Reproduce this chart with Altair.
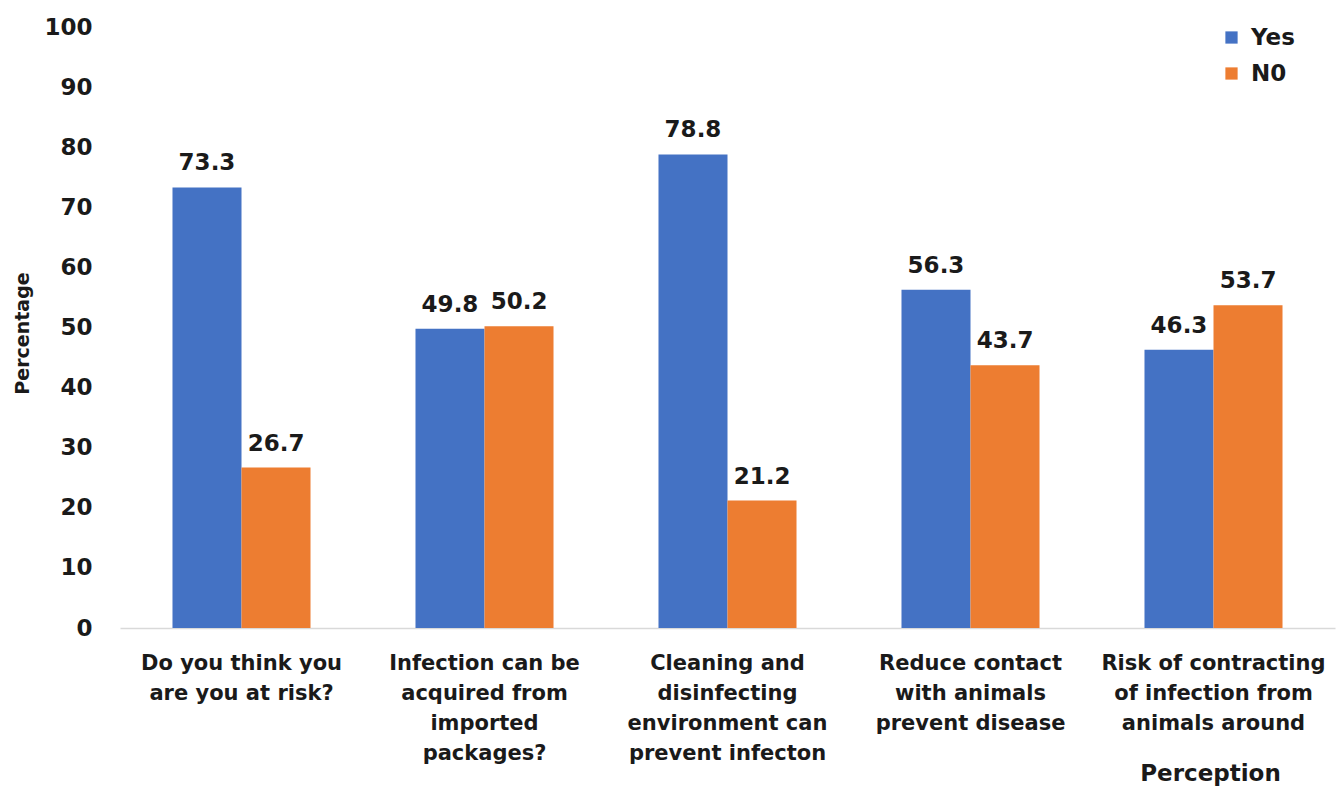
import altair as alt
import pandas as pd

categories = [
    "Do you think you|are you at risk?",
    "Infection can be|acquired from|imported|packages?",
    "Cleaning and|disinfecting|environment can|prevent infecton",
    "Reduce contact|with animals|prevent disease",
    "Risk of contracting|of infection from|animals around",
]
groups = ["Yes", "N0"]
yes_values = [73.3, 49.8, 78.8, 56.3, 46.3]
no_values = [26.7, 50.2, 21.2, 43.7, 53.7]

rows = []
for c, y, n in zip(categories, yes_values, no_values):
    rows.append({"cat": c, "group": "Yes", "value": y})
    rows.append({"cat": c, "group": "N0", "value": n})
df = pd.DataFrame(rows)

FONT = "DejaVu Sans"

x = alt.X(
    "cat:N",
    sort=categories,
    scale=alt.Scale(paddingInner=0.432, paddingOuter=0.216),
    axis=alt.Axis(
        title="Perception",
        labelExpr="split(datum.label, '|')",
        labelAngle=0,
        labelFont=FONT,
        labelFontSize=21,
        labelFontWeight="bold",
        labelColor="#1a1a1a",
        labelLineHeight=30,
        labelPadding=24,
        labelLimit=400,
        ticks=False,
        domainColor="#d9d9d9",
        domainWidth=1.5,
        titleFont=FONT,
        titleFontSize=23,
        titleFontWeight="bold",
        titleColor="#1a1a1a",
        titleX=1090,
        titleY=145,
        titleAlign="center",
        titleBaseline="middle",
    ),
)
xo = alt.XOffset("group:N", sort=groups)
y = alt.Y(
    "value:Q",
    scale=alt.Scale(domain=[0, 100]),
    axis=alt.Axis(
        title="Percentage",
        values=list(range(0, 101, 10)),
        grid=False,
        ticks=False,
        domain=False,
        labelFont=FONT,
        labelFontSize=23,
        labelFontWeight="bold",
        labelColor="#1a1a1a",
        labelPadding=28,
        titleFont=FONT,
        titleFontSize=19,
        titleFontWeight="bold",
        titleColor="#1a1a1a",
        titleX=-98,
        titleY=306,
        titleAlign="center",
        titleBaseline="middle",
    ),
)

color = alt.Color(
    "group:N",
    sort=groups,
    scale=alt.Scale(domain=groups, range=["#4472C4", "#ED7D31"]),
    legend=alt.Legend(
        title=None,
        orient="none",
        legendX=1100,
        legendY=-1,
        symbolType="square",
        symbolSize=150,
        symbolStrokeWidth=0,
        labelFont=FONT,
        labelFontSize=23,
        labelFontWeight="bold",
        labelColor="#1a1a1a",
        labelOffset=8,
        rowPadding=12,
    ),
)

bars = alt.Chart(df).mark_bar().encode(x=x, xOffset=xo, y=y, color=color)
text = alt.Chart(df).mark_text(
    baseline="alphabetic", dy=-17, font=FONT, fontSize=23, fontWeight="bold", color="#1a1a1a"
).encode(x=x, xOffset=xo, y=y, text=alt.Text("value:Q", format=".1f"))

chart = (
    alt.layer(bars, text)
    .properties(
        width=1215,
        height=601,
        autosize=alt.AutoSizeParams(type="none"),
        padding={"left": 112, "top": 19, "right": 1, "bottom": 158},
        background="white",
    )
    .configure_view(stroke="transparent", strokeWidth=0)
)

chart.save("out.html", embed_options={"renderer": "svg", "actions": False})
